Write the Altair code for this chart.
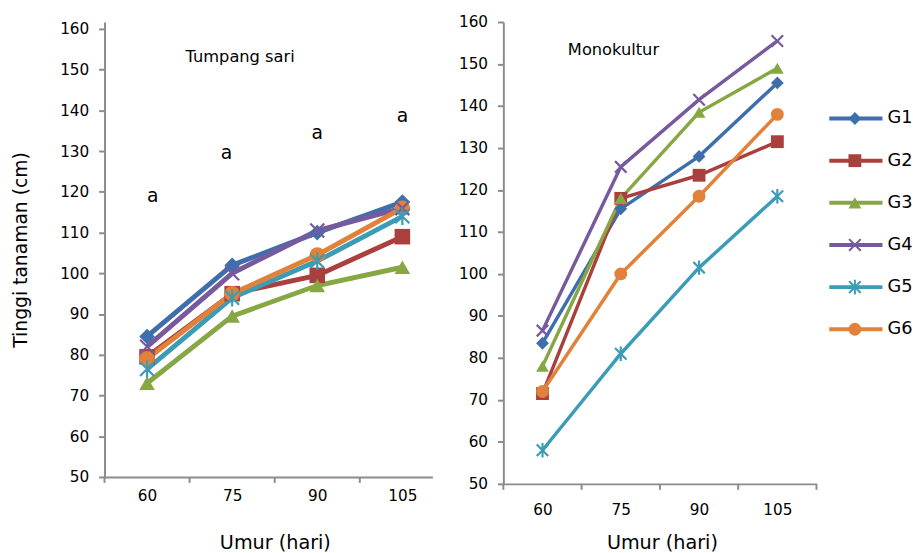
import altair as alt
import pandas as pd

# ---------------- data ----------------
days = [60, 75, 90, 105]
series = ["G1", "G2", "G3", "G4", "G5", "G6"]

# Tumpang sari (left panel)
ts_g1 = [84.5, 102.0, 110.0, 117.5]
ts_g2 = [79.5, 95.0, 99.5, 109.0]
ts_g3 = [73.0, 89.5, 97.0, 101.5]
ts_g4 = [82.0, 100.0, 110.5, 116.0]
ts_g5 = [76.5, 94.0, 103.0, 114.0]
ts_g6 = [79.0, 95.0, 104.5, 116.0]

# Monokultur (right panel)
mk_g1 = [83.5, 115.5, 128.0, 145.5]
mk_g2 = [71.5, 118.0, 123.5, 131.5]
mk_g3 = [78.0, 118.0, 138.5, 149.0]
mk_g4 = [86.5, 125.5, 141.5, 155.5]
mk_g5 = [58.0, 81.0, 101.5, 118.5]
mk_g6 = [72.0, 100.0, 118.5, 138.0]

# letter annotations on the left panel
a_labels = ["a", "a", "a", "a"]
a_x = [61.0, 74.0, 90.0, 105.0]
a_y = [119.0, 129.5, 134.5, 138.5]

panel_titles = ["Tumpang sari", "Monokultur"]
panel_title_x = [76.4, 73.6]
panel_title_y = [153.0, 153.4]

y_ticks = [50, 60, 70, 80, 90, 100, 110, 120, 130, 140, 150, 160]
# category boundaries (where the x-axis tick marks sit)
left_bounds = [52.5, 67.5, 82.5, 97.5]
right_bounds = [52.5, 67.5, 82.5, 97.5, 112.5]

colors = ["#3E6FAC", "#A9403D", "#87A744", "#775A9E", "#3B9CB7", "#E2823A"]
X_PATH = "M-1,-1L1,1M-1,1L1,-1"
STAR_PATH = "M-1,-1L1,1M-1,1L1,-1M0,-1.25L0,1.25"
shapes = ["diamond", "square", "triangle-up", X_PATH, STAR_PATH, "circle"]
hollow = ["G4", "G5"]

ts_vals = [ts_g1, ts_g2, ts_g3, ts_g4, ts_g5, ts_g6]
mk_vals = [mk_g1, mk_g2, mk_g3, mk_g4, mk_g5, mk_g6]


def long_df(vals):
    rows = []
    for s, v in zip(series, vals):
        for d, y in zip(days, v):
            rows.append({"series": s, "day": d, "value": y})
    return pd.DataFrame(rows)


ts_df = long_df(ts_vals)
mk_df = long_df(mk_vals)
a_df = pd.DataFrame({"t": a_labels, "x": a_x, "y": a_y})
leg_df = pd.DataFrame({"series": series, "idx": list(range(len(series)))})

FONT = "DejaVu Sans"
GRAY = "#8C8C8C"

color_enc = alt.Color("series:N", scale=alt.Scale(domain=series, range=colors), legend=None)
shape_enc = alt.Shape("series:N", scale=alt.Scale(domain=series, range=shapes), legend=None)


def x_axis(label_pad, title_pad, title_x):
    return alt.Axis(
        values=days,
        labelOverlap=False,
        labelFlush=False,
        title="Umur (hari)",
        titleFontSize=19.5,
        titleFontWeight="normal",
        titleFont=FONT,
        titleColor="black",
        titleX=title_x,
        labelPadding=label_pad,
        titlePadding=title_pad,
        tickSize=6,
        tickOpacity=0,
    )


def panel(df, xdom, ydom, w, h, lw, msize, title_idx, ytitle, xlab_pad, xtitle_pad, title_x, bounds):
    xs = alt.Scale(domain=xdom, nice=False, zero=False)
    ys = alt.Scale(domain=ydom, nice=False, zero=False)
    yax = alt.Axis(
        values=y_ticks,
        title="Tinggi tanaman (cm)" if ytitle else None,
        titleFontSize=19,
        titleFontWeight="normal",
        titleFont=FONT,
        titleColor="black",
        titlePadding=30,
        labelPadding=10,
        tickSize=6,
        labelOverlap=False,
    )
    base = alt.Chart(df)
    line = base.mark_line(strokeWidth=lw).encode(
        x=alt.X("day:Q", scale=xs, axis=x_axis(xlab_pad, xtitle_pad, title_x)),
        y=alt.Y("value:Q", scale=ys, axis=yax),
        color=color_enc,
        detail="series:N",
    )
    filled = base.transform_filter(
        alt.FieldOneOfPredicate(field="series", oneOf=[s for s in series if s not in hollow])
    ).mark_point(filled=True, opacity=1, size=msize).encode(
        x="day:Q", y="value:Q", color=color_enc, shape=shape_enc
    )
    stroked = base.transform_filter(
        alt.FieldOneOfPredicate(field="series", oneOf=hollow)
    ).mark_point(filled=False, opacity=1, size=msize * 0.8, strokeWidth=2.2).encode(
        x="day:Q", y="value:Q", color=color_enc, shape=shape_enc
    )
    tick_df = pd.DataFrame({"b": bounds})
    xticks = alt.Chart(tick_df).mark_rule(color=GRAY, strokeWidth=2).encode(
        x="b:Q", y=alt.value(h), y2=alt.value(h + 6)
    )
    tdf = pd.DataFrame({"t": [panel_titles[title_idx]],
                        "x": [panel_title_x[title_idx]],
                        "y": [panel_title_y[title_idx]]})
    ttl = alt.Chart(tdf).mark_text(font=FONT, fontSize=16.5, color="black").encode(
        x="x:Q", y="y:Q", text="t:N"
    )
    layers = [line, xticks, filled, stroked, ttl]
    if title_idx == 0:
        ann = alt.Chart(a_df).mark_text(font=FONT, fontSize=19, color="black").encode(
            x="x:Q", y="y:Q", text="t:N"
        )
        layers.append(ann)
    return alt.layer(*layers).properties(width=w, height=h)


left = panel(ts_df, [52.5, 110.3], [50, 161.7], 333, 462, 5, 250, 0, True, 6, 30, 173, left_bounds)
right = panel(mk_df, [52.5, 112.5], [50, 160], 318, 469, 3.5, 170, 1, False, 13, 16, 161, right_bounds)

leg_y = alt.Y("idx:Q", scale=alt.Scale(domain=[0, 5], range=[98, 312], nice=False, zero=False), axis=None)
leg_base = alt.Chart(leg_df)
leg_line = leg_base.mark_rule(strokeWidth=4).encode(
    x=alt.value(0), x2=alt.value(54), y=leg_y, color=color_enc
)
leg_fill = leg_base.transform_filter(
    alt.FieldOneOfPredicate(field="series", oneOf=[s for s in series if s not in hollow])
).mark_point(filled=True, opacity=1, size=170).encode(
    x=alt.value(26), y=leg_y, color=color_enc, shape=shape_enc
)
leg_str = leg_base.transform_filter(
    alt.FieldOneOfPredicate(field="series", oneOf=hollow)
).mark_point(filled=False, opacity=1, size=140, strokeWidth=2).encode(
    x=alt.value(26), y=leg_y, color=color_enc, shape=shape_enc
)
leg_text = leg_base.mark_text(font=FONT, fontSize=18, align="left", baseline="middle", color="black").encode(
    x=alt.value(59), y=leg_y, text="series:N"
)
legend = alt.layer(leg_line, leg_fill, leg_str, leg_text).properties(width=78, height=469)

chart = alt.hconcat(
    alt.hconcat(left, right, spacing=26),
    legend,
    spacing=10,
).properties(
    padding={"left": 3, "top": 3, "right": 0, "bottom": 0}
).configure_view(stroke=None).configure_axis(
    grid=False,
    labelFont=FONT,
    labelFontSize=15.5,
    labelColor="black",
    domainColor=GRAY,
    domainWidth=2,
    tickColor=GRAY,
    tickWidth=2,
)

chart.save("out.html", embed_options={"renderer": "svg", "actions": False})
